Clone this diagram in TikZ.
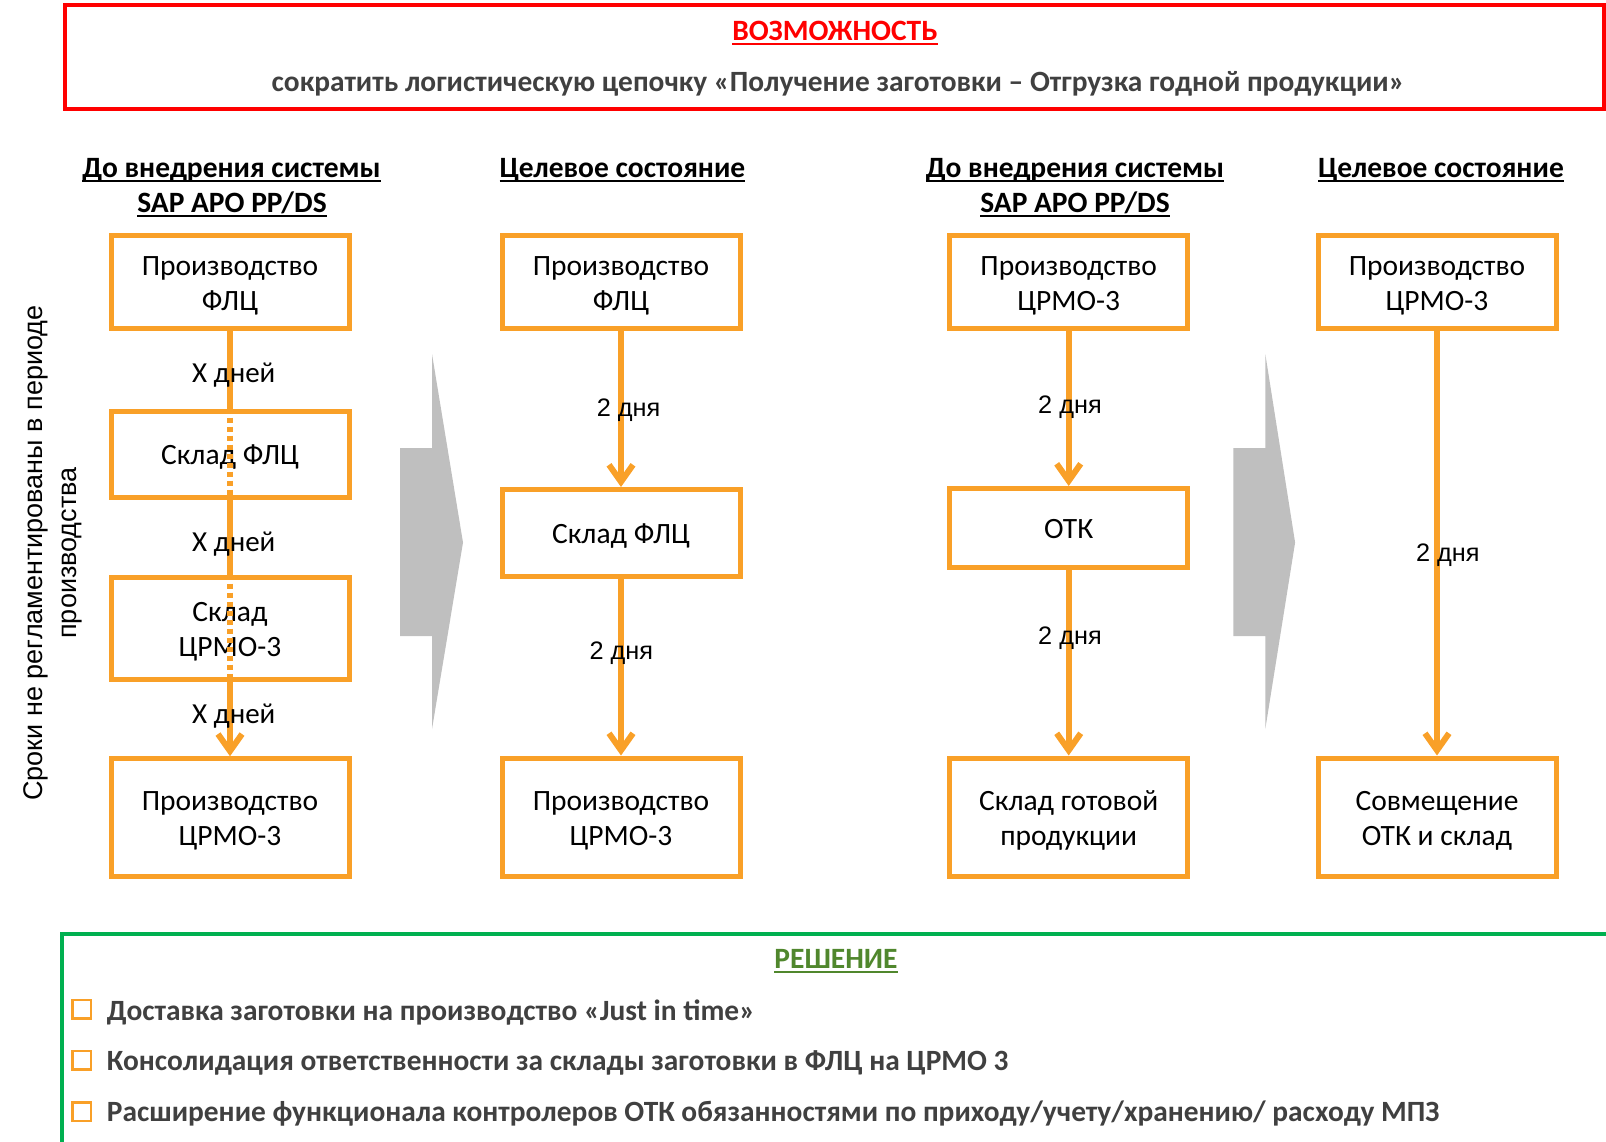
\documentclass[tikz,border=0pt]{standalone}
\usepackage{fontspec}
\setmainfont{Carlito}
\newfontfamily\arialf{Liberation Sans}
\usetikzlibrary{arrows.meta}
\definecolor{org}{RGB}{249,160,40}
\definecolor{grayarr}{RGB}{191,191,191}
\definecolor{dgray}{RGB}{64,64,64}
\definecolor{redc}{RGB}{255,0,0}
\definecolor{greenline}{RGB}{0,176,80}
\definecolor{greentxt}{RGB}{80,135,45}
\def\myul#1{\leavevmode\setbox0\hbox{#1}\rlap{\vrule width \wd0 height -2.5pt depth 5pt}\box0}
\newcommand\tstrut[1][26pt]{\rule{0pt}{#1}}
\begin{document}
\begin{tikzpicture}[x=1pt,y=-1pt,
  box/.style={draw=org, line width=5pt, minimum width=238pt, inner sep=0pt, align=center, font=\fontsize{29.5}{35}\selectfont},
  conn/.style={draw=org, line width=6pt},
  arr/.style={conn, -{Straight Barb[length=17pt,width=24pt]}},
  dots/.style={draw=org, line width=5.5pt, dash pattern=on 5pt off 4pt},
  xlab/.style={font=\fontsize{29}{34}\selectfont},
  dlab/.style={font=\arialf\fontsize{25.3}{30}\selectfont},
  head/.style={font=\bfseries\fontsize{29.5}{34}\selectfont, anchor=base, inner sep=0pt},
  bul/.style={draw=org, line width=2.5pt, minimum width=18.5pt, minimum height=18.5pt, inner sep=0pt},
  bultxt/.style={anchor=base west, text=dgray, font=\bfseries\fontsize{29.4}{34}\selectfont, inner sep=0pt},
  bigarrow/.style={fill=grayarr, draw=none}]
\useasboundingbox (0,0) rectangle (1606,1141);

% top frame
\node[draw=redc, line width=4pt, minimum width=1539pt, minimum height=104pt, inner sep=0pt] (opp) at (834,57.3) {};
\node[head, text=redc] (opptitle) at (835,40) {\myul{ВОЗМОЖНОСТЬ}};
\node[head, text=dgray, font=\bfseries\fontsize{29.4}{34}\selectfont] (oppsub) at (838,91.5) {сократить логистическую цепочку «Получение заготовки – Отгрузка годной продукции»};

% headings
\node[head] (h1a) at (231.5,177) {\myul{До внедрения системы}};
\node[head] (h1b) at (232,212) {\myul{SAP APO PP/DS}};
\node[head] (h2a) at (622.5,177) {\myul{Целевое состояние}};
\node[head] (h3a) at (1075,177) {\myul{До внедрения системы}};
\node[head] (h3b) at (1075,212) {\myul{SAP APO PP/DS}};
\node[head] (h4a) at (1441,177) {\myul{Целевое состояние}};

% side text
\node[rotate=90, align=center, font=\arialf\fontsize{27}{34}\selectfont] (side) at (53,553) {Сроки не регламентированы в периоде\\производства};

% gray big arrows
\path[bigarrow] (400,448) -- (432,448) -- (432,354) -- (463,542.5) -- (432,729) -- (432,636) -- (400,636) -- cycle;
\path[bigarrow] (1233.4,448) -- (1265.3,448) -- (1265.3,354) -- (1295.1,542.5) -- (1265.3,729) -- (1265.3,636) -- (1233.4,636) -- cycle;

% column 1
\node[box, minimum height=93.5pt] (c1b1) at (230,282) {\tstrut Производство\\ФЛЦ};
\node[box, minimum height=86pt] (c1b2) at (230,454) {\tstrut Склад ФЛЦ};
\node[box, minimum height=102pt] (c1b3) at (230,628) {\tstrut Склад\\ЦРМО-3};
\node[box, minimum height=117.5pt] (c1b4) at (230,817.5) {\tstrut Производство\\ЦРМО-3};
% column 2
\node[box, minimum height=93.5pt] (c2b1) at (621,282) {\tstrut Производство\\ФЛЦ};
\node[box, minimum height=87pt] (c2b2) at (621,533) {\tstrut Склад ФЛЦ};
\node[box, minimum height=118pt] (c2b3) at (621,817) {\tstrut Производство\\ЦРМО-3};
% column 3
\node[box, minimum height=93.5pt] (c3b1) at (1068.7,282) {\tstrut Производство\\ЦРМО-3};
\node[box, minimum height=79pt] (c3b2) at (1068.7,528) {\tstrut[22pt]ОТК};
\node[box, minimum height=118pt] (c3b3) at (1068.7,817) {\tstrut Склад готовой\\продукции};
% column 4
\node[box, minimum height=93.5pt] (c4b1) at (1437,282) {\tstrut Производство\\ЦРМО-3};
\node[box, minimum height=118pt] (c4b2) at (1437,817) {\tstrut Совмещение\\ОТК и склад};

% connectors
\draw[conn] (c1b1.south) -- (c1b2.north);
\draw[dots] (c1b2.north) -- (c1b2.south);
\draw[conn] (c1b2.south) -- (c1b3.north);
\draw[dots] (c1b3.north) -- (c1b3.south);
\draw[arr] (c1b3.south) -- (c1b4.north);
\draw[arr] (c2b1.south) -- (c2b2.north);
\draw[arr] (c2b2.south) -- (c2b3.north);
\draw[arr] (c3b1.south) -- (c3b2.north);
\draw[arr] (c3b2.south) -- (c3b3.north);
\draw[arr] (c4b1.south) -- (c4b2.north);

% labels
\node[xlab] (l1) at (233.7,375.5) {X дней};
\node[xlab] (l2) at (233.7,544) {X дней};
\node[xlab] (l3) at (233.7,716.5) {X дней};
\node[dlab] (l4) at (628.6,410) {2 дня};
\node[dlab] (l5) at (621.4,653.6) {2 дня};
\node[dlab] (l6) at (1070,407) {2 дня};
\node[dlab] (l7) at (1070,638.5) {2 дня};
\node[dlab] (l8) at (1447.8,555) {2 дня};

% solution frame
\coordinate (gbl) at (61.7,1150);
\coordinate (gtl) at (61.7,934);
\coordinate (gtr) at (1615,934);
\draw[greenline, line width=4pt] (gbl) -- (gtl) -- (gtr);
\node[head, text=greentxt] (sol) at (836,968) {\myul{РЕШЕНИЕ}};
\node[bul] (s1) at (81.8,1009.2) {};
\node[bul] (s2) at (81.8,1060.4) {};
\node[bul] (s3) at (81.8,1111.7) {};
\node[bultxt] (t1) at (106.7,1020) {Доставка заготовки на производство «Just in time»};
\node[bultxt] (t2) at (106.7,1070.7) {Консолидация ответственности за склады заготовки в ФЛЦ на ЦРМО 3};
\node[bultxt] (t3) at (106.7,1121.7) {Расширение функционала контролеров ОТК обязанностями по приходу/учету/хранению/ расходу МПЗ};
\end{tikzpicture}
\end{document}
